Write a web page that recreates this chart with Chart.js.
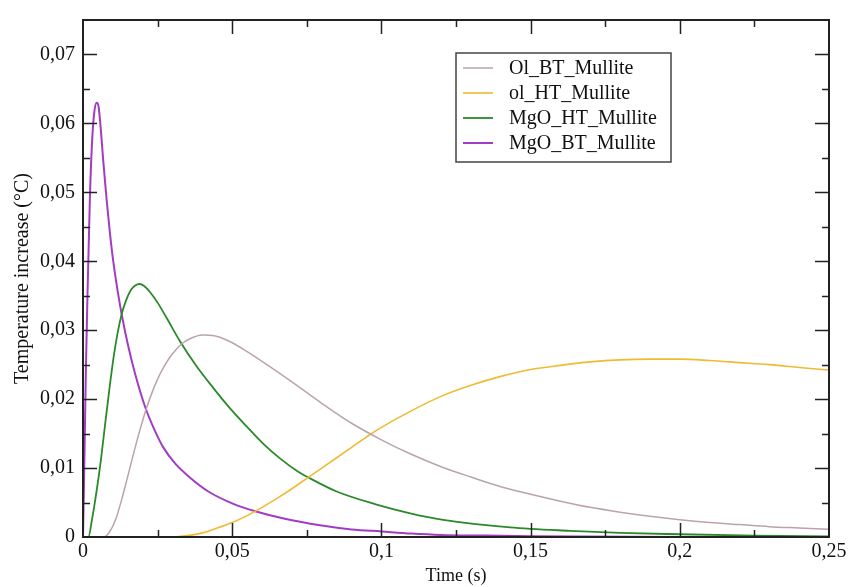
<!DOCTYPE html>
<html><head><meta charset="utf-8">
<script src="https://cdn.jsdelivr.net/npm/chart.js@4.4.1/dist/chart.umd.min.js"></script>
<style>html,body{margin:0;padding:0;background:#fff;}canvas{display:block;}</style>
</head><body>
<canvas id="c" width="850" height="587" style="width:850px;height:587px"></canvas>
<script>
// ---- data ----
const seriesNames = ['Ol_BT_Mullite', 'ol_HT_Mullite', 'MgO_HT_Mullite', 'MgO_BT_Mullite'];

const olBtTime  = [0, 0.007, 0.009, 0.011, 0.013, 0.015, 0.017, 0.019, 0.021, 0.023, 0.025, 0.027, 0.029, 0.031, 0.033, 0.036, 0.04, 0.044, 0.049, 0.055, 0.062, 0.07, 0.08, 0.09, 0.1, 0.11, 0.12, 0.13, 0.14, 0.15, 0.16, 0.17, 0.18, 0.19, 0.2, 0.21, 0.22, 0.23, 0.24, 0.25];
const olBtValue = [0, 0, 0.0008, 0.0026, 0.0055, 0.0088, 0.0122, 0.0154, 0.0183, 0.0208, 0.0229, 0.0246, 0.0260, 0.0271, 0.0280, 0.0288, 0.0293, 0.0292, 0.0284, 0.0269, 0.0249, 0.0225, 0.0194, 0.0165, 0.0141, 0.0120, 0.0102, 0.0087, 0.0073, 0.0062, 0.0052, 0.0043, 0.0036, 0.0030, 0.0025, 0.0021, 0.0018, 0.0015, 0.0013, 0.0011];

const olHtTime  = [0, 0.03, 0.035, 0.04, 0.045, 0.05, 0.055, 0.06, 0.065, 0.07, 0.076, 0.08, 0.09, 0.096, 0.1, 0.11, 0.12, 0.13, 0.14, 0.15, 0.16, 0.17, 0.18, 0.19, 0.2, 0.21, 0.22, 0.23, 0.24, 0.25];
const olHtValue = [0, 0, 0.0002, 0.0006, 0.0013, 0.0021, 0.0031, 0.0043, 0.0056, 0.0070, 0.0088, 0.0100, 0.0130, 0.0148, 0.0159, 0.0183, 0.0204, 0.0220, 0.0233, 0.0243, 0.0249, 0.0254, 0.0257, 0.0258, 0.0258, 0.0256, 0.0253, 0.0250, 0.0246, 0.0242];

const mgoHtTime  = [0, 0.0018, 0.003, 0.0046, 0.006, 0.0074, 0.0088, 0.0102, 0.0116, 0.013, 0.0145, 0.016, 0.0175, 0.019, 0.0205, 0.0225, 0.025, 0.028, 0.0325, 0.038, 0.0437, 0.049, 0.0549, 0.06, 0.066, 0.072, 0.0761, 0.085, 0.0984, 0.11, 0.1207, 0.1431, 0.1632, 0.18, 0.2, 0.225, 0.25];
const mgoHtValue = [0, 0, 0.0025, 0.0068, 0.0112, 0.0163, 0.0213, 0.0259, 0.0296, 0.0324, 0.0344, 0.0358, 0.0365, 0.0367, 0.0364, 0.0355, 0.0340, 0.0318, 0.0284, 0.0248, 0.0216, 0.0188, 0.0160, 0.0137, 0.0114, 0.0095, 0.0085, 0.0066, 0.0047, 0.0034, 0.0025, 0.0014, 0.0009, 0.0006, 0.0004, 0.0002, 0.0001];

const mgoBtTime  = [0, 0.0005, 0.001, 0.0015, 0.0023, 0.003, 0.0038, 0.0046, 0.0052, 0.0058, 0.0068, 0.0079, 0.009, 0.0102, 0.0115, 0.013, 0.015, 0.0175, 0.0208, 0.024, 0.0269, 0.031, 0.0359, 0.042, 0.0504, 0.058, 0.068, 0.0794, 0.09, 0.1, 0.11, 0.12, 0.135, 0.15, 0.2, 0.25];
const mgoBtValue = [0, 0.012, 0.025, 0.035, 0.049, 0.057, 0.0617, 0.063, 0.0625, 0.0600, 0.0545, 0.0490, 0.0442, 0.0398, 0.0360, 0.0322, 0.0280, 0.0236, 0.0189, 0.0155, 0.0130, 0.0106, 0.0086, 0.0066, 0.0048, 0.0037, 0.0026, 0.0017, 0.0011, 0.0008, 0.0005, 0.0003, 0.0002, 0.0001, 0, 0];

const xTickLabels = ['0', '0,05', '0,1', '0,15', '0,2', '0,25'];
const yTickLabels = ['0', '0,01', '0,02', '0,03', '0,04', '0,05', '0,06', '0,07'];

const seriesColors = ['#bba3ad', '#eebb33', '#2a8a2a', '#a23cc4'];

// ---- build chart ----
function pts(t, v) { return t.map((x, i) => ({ x: x, y: v[i] })); }
const seriesData = [pts(olBtTime, olBtValue), pts(olHtTime, olHtValue), pts(mgoHtTime, mgoHtValue), pts(mgoBtTime, mgoBtValue)];
const widths = [1.5, 1.6, 1.8, 2];

const serif = "'Liberation Serif', 'DejaVu Serif', serif";

const framePlugin = {
  id: 'frameTicks',
  afterDatasetsDraw(chart) {
    const { ctx, chartArea: a, scales: { x, y } } = chart;
    ctx.save();
    ctx.strokeStyle = '#222';
    ctx.lineWidth = 1.5;
    ctx.beginPath();
    y.ticks.forEach(tk => {
      const p = Math.round(y.getPixelForValue(tk.value)) + 0.5;
      const major = Math.abs(tk.value * 100 - Math.round(tk.value * 100)) < 1e-6;
      const len = major ? 14 : 7;
      if (p < a.top + 1 || p > a.bottom - 1) return;
      ctx.moveTo(a.left, p); ctx.lineTo(a.left + len, p);
      ctx.moveTo(a.right, p); ctx.lineTo(a.right - len, p);
    });
    x.ticks.forEach(tk => {
      const p = Math.round(x.getPixelForValue(tk.value)) + 0.5;
      const major = Math.abs(tk.value * 20 - Math.round(tk.value * 20)) < 1e-6;
      const len = major ? 14 : 7;
      if (p < a.left + 1 || p > a.right - 1) return;
      ctx.moveTo(p, a.bottom); ctx.lineTo(p, a.bottom - len);
      ctx.moveTo(p, a.top); ctx.lineTo(p, a.top + len);
    });
    ctx.stroke();
    ctx.lineWidth = 2;
    ctx.strokeRect(a.left, a.top, a.right - a.left, a.bottom - a.top);
    ctx.restore();

    // legend box
    ctx.save();
    const bx = 456, by = 53, bw = 215, bh = 109;
    ctx.fillStyle = '#fff';
    ctx.fillRect(bx, by, bw, bh);
    ctx.strokeStyle = '#444';
    ctx.lineWidth = 1.5;
    ctx.strokeRect(bx, by, bw, bh);
    ctx.font = '20px ' + serif;
    ctx.textBaseline = 'middle';
    ctx.fillStyle = '#111';
    chart.data.datasets.forEach((ds, i) => {
      const ry = by + 15 + i * 25;
      ctx.strokeStyle = ds.borderColor;
      ctx.lineWidth = ds.borderWidth;
      ctx.beginPath(); ctx.moveTo(bx + 7, ry); ctx.lineTo(bx + 37, ry); ctx.stroke();
      ctx.fillText(ds.label, bx + 53, ry + 1);
    });
    ctx.restore();
  }
};

new Chart(document.getElementById('c'), {
  type: 'line',
  data: {
    datasets: seriesNames.map((n, i) => ({
      label: n,
      data: seriesData[i],
      borderColor: seriesColors[i],
      backgroundColor: seriesColors[i],
      borderWidth: widths[i],
      pointRadius: 0,
      fill: false,
      cubicInterpolationMode: 'monotone'
    }))
  },
  options: {
    responsive: false,
    devicePixelRatio: 1,
    animation: false,
    layout: { padding: { left: 0, right: 21, top: 15, bottom: 0 } },
    plugins: { legend: { display: false }, tooltip: { enabled: false } },
    scales: {
      x: {
        type: 'linear', min: 0, max: 0.25,
        grid: { display: false, drawTicks: false },
        border: { display: false },
        ticks: {
          stepSize: 0.025, autoSkip: false, maxRotation: 0, padding: 3,
          color: '#111', font: { family: serif, size: 20 },
          callback: (v) => { const k = Math.round(v / 0.05 * 1000) / 1000; return Number.isInteger(k) ? xTickLabels[k] : ''; }
        },
        title: { display: true, text: 'Time (s)', color: '#111', font: { family: serif, size: 18 }, padding: { top: 0, bottom: 0 } },
        afterFit: (s) => { s.height = 50; }
      },
      y: {
        type: 'linear', min: 0, max: 0.075,
        grid: { display: false, drawTicks: false },
        border: { display: false },
        ticks: {
          stepSize: 0.005, autoSkip: false, padding: 8,
          color: '#111', font: { family: serif, size: 20 },
          callback: (v) => { const k = Math.round(v / 0.01 * 1000) / 1000; return Number.isInteger(k) && k < yTickLabels.length ? yTickLabels[k] : ''; }
        },
        title: { display: true, text: 'Temperature increase (°C)', color: '#111', font: { family: serif, size: 20 }, padding: { top: 11, bottom: 0 } },
        afterFit: (s) => { s.width = 83; }
      }
    }
  },
  plugins: [framePlugin]
});
</script>
</body></html>
